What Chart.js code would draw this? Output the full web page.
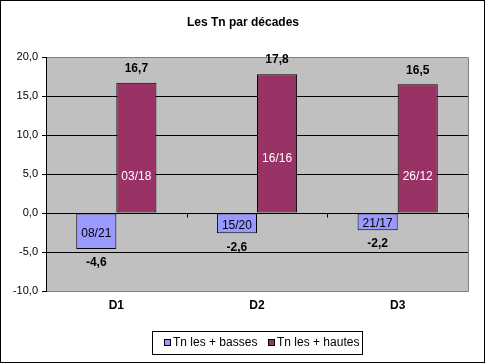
<!DOCTYPE html>
<html><head><meta charset="utf-8">
<script src="https://cdn.jsdelivr.net/npm/chart.js@4"></script>
<style>html,body{margin:0;padding:0;background:#fff}#w{width:485px;height:363px;position:relative}</style>
</head><body><div id="w"><canvas id="c" width="485" height="363"></canvas></div>
<script>
const categories = ["D1", "D2", "D3"];
const seriesLow = [-4.6, -2.6, -2.2];
const seriesHigh = [16.7, 17.8, 16.5];
const lowDates = ["08/21", "15/20", "21/17"];
const highDates = ["03/18", "16/16", "26/12"];
const seriesNames = ["Tn les + basses", "Tn les + hautes"];
const yTicks = [-10, -5, 0, 5, 10, 15, 20];

const FONT = "'Liberation Sans', Arial, sans-serif";
const fmt = v => v.toFixed(1).replace('.', ',');
const highLabelPos = [4.6, 7.0, 4.6];

const deco = {
  id: 'deco',
  beforeDraw(chart) {
    const ctx = chart.ctx, a = chart.chartArea;
    ctx.save();
    ctx.fillStyle = '#fff';
    ctx.fillRect(0, 0, chart.width, chart.height);
    ctx.fillStyle = '#c0c0c0';
    ctx.fillRect(a.left, a.top, a.right - a.left, a.bottom - a.top);
    ctx.restore();
  },
  afterDraw(chart) {
    const ctx = chart.ctx, a = chart.chartArea;
    const x = chart.scales.x, y = chart.scales.y;
    ctx.save();
    ctx.strokeStyle = '#808080'; ctx.lineWidth = 1;
    ctx.beginPath();
    ctx.moveTo(a.left, a.top + 0.5); ctx.lineTo(a.right + 0.5, a.top + 0.5);
    ctx.lineTo(a.right + 0.5, a.bottom + 0.5); ctx.lineTo(a.left, a.bottom + 0.5);
    ctx.stroke();
    ctx.strokeStyle = '#000';
    ctx.beginPath();
    ctx.moveTo(a.left + 0.5, a.top); ctx.lineTo(a.left + 0.5, a.bottom + 1);
    ctx.stroke();
    const y0 = Math.round(y.getPixelForValue(0)) + 0.5;
    ctx.beginPath();
    ctx.moveTo(a.left, y0); ctx.lineTo(a.right, y0);
    const n = categories.length, cw = (a.right - a.left) / n;
    for (let i = 0; i <= n; i++) {
      const px = Math.round(a.left + i * cw) + 0.5;
      ctx.moveTo(px, y0); ctx.lineTo(px, y0 + 4);
    }
    ctx.stroke();
    ctx.textAlign = 'center'; ctx.textBaseline = 'middle';
    const m0 = chart.getDatasetMeta(0), m1 = chart.getDatasetMeta(1);
    for (let i = 0; i < n; i++) {
      const b0 = m0.data[i], b1 = m1.data[i];
      ctx.font = 'bold 12px ' + FONT; ctx.fillStyle = '#000';
      ctx.fillText(fmt(seriesHigh[i]), b1.x, b1.y - 14);
      ctx.fillText(fmt(seriesLow[i]), b0.x, b0.y + 14);
      ctx.font = '12px ' + FONT;
      ctx.fillStyle = '#fff';
      ctx.fillText(highDates[i], b1.x, y.getPixelForValue(highLabelPos[i]));
      ctx.fillStyle = '#000';
      ctx.fillText(lowDates[i], b0.x, (b0.y + b0.base) / 2 + 2);
    }
    ctx.font = 'bold 12px ' + FONT;
    ctx.fillText('Les Tn par décades', 243, 23);
    const lx = 152, ly = 331, lw = 210, lh = 23;
    ctx.strokeStyle = '#000';
    ctx.strokeRect(lx + 0.5, ly + 0.5, lw, lh);
    const cols = ['#9999ff', '#993366'];
    const ix = [164, 268];
    ctx.font = '12px ' + FONT; ctx.textAlign = 'left';
    for (let k = 0; k < 2; k++) {
      ctx.fillStyle = cols[k];
      ctx.fillRect(ix[k] + 0.5, 339.5, 6, 6);
      ctx.strokeRect(ix[k] + 0.5, 339.5, 6, 6);
      ctx.fillStyle = '#000';
      ctx.fillText(seriesNames[k], ix[k] + 9, 343);
    }
    ctx.strokeRect(0.5, 0.5, chart.width - 1, chart.height - 1);
    ctx.restore();
  }
};

new Chart(document.getElementById('c'), {
  type: 'bar',
  data: {
    labels: categories,
    datasets: [
      { label: seriesNames[0], data: seriesLow, backgroundColor: '#9999ff', borderColor: '#000', borderWidth: 1, borderSkipped: false },
      { label: seriesNames[1], data: seriesHigh, backgroundColor: '#993366', borderColor: '#000', borderWidth: 1, borderSkipped: false }
    ]
  },
  options: {
    responsive: false, animation: false,
    devicePixelRatio: 1,
    layout: { padding: { top: 57, right: 17, bottom: 42, left: 0 } },
    plugins: { legend: { display: false }, tooltip: { enabled: false }, title: { display: false } },
    datasets: { bar: { categoryPercentage: 0.57, barPercentage: 1 } },
    scales: {
      x: {
        grid: { display: false, drawTicks: false, tickLength: 0 }, border: { display: false },
        ticks: { color: '#000', font: { family: FONT, size: 12, weight: 'bold' }, padding: 7 },
        afterFit(s) { s.height = 30; }
      },
      y: {
        min: -10, max: 20,
        afterBuildTicks(s) { s.ticks = yTicks.map(v => ({ value: v })); },
        afterFit(s) { s.width = 46; },
        border: { display: false },
        grid: {
          color: c => (c.tick && (c.tick.value === 20 || c.tick.value === -10)) ? 'rgba(0,0,0,0)' : '#000',
          tickColor: '#000', tickLength: 4, drawTicks: true
        },
        ticks: { color: '#000', font: { family: FONT, size: 11 }, padding: 4, callback: v => fmt(v) }
      }
    }
  },
  plugins: [deco]
});
</script>
</body></html>
